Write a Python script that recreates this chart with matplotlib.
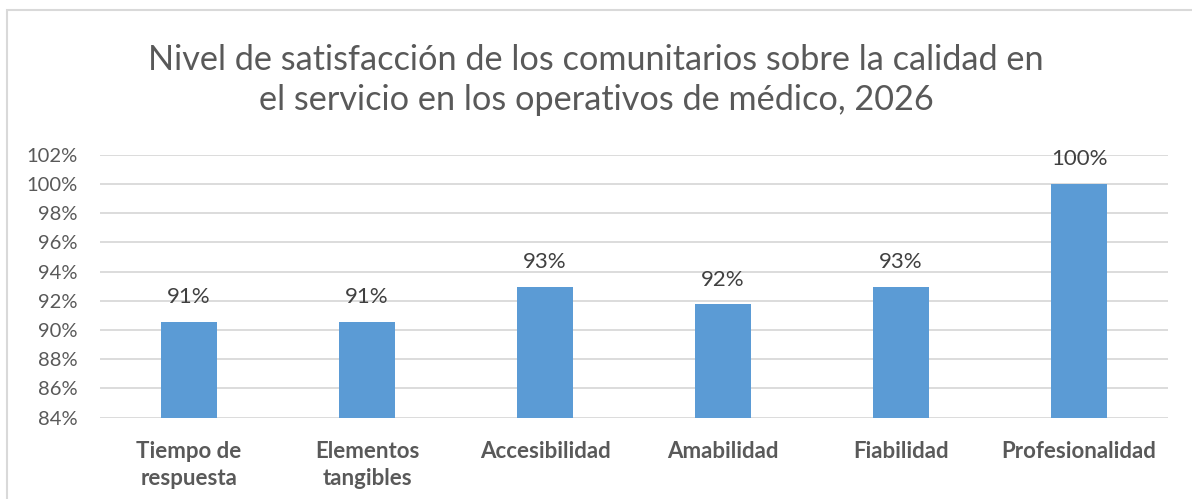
import matplotlib
matplotlib.use('Agg')
import matplotlib.pyplot as plt
from matplotlib.patches import Rectangle

# datos
categorias = ['Tiempo de\nrespuesta', 'Elementos\ntangibles', 'Accesibilidad',
              'Amabilidad', 'Fiabilidad', 'Profesionalidad']
valores = [90.55, 90.55, 92.95, 91.75, 92.95, 100.0]
etiquetas = ['91%', '91%', '93%', '92%', '93%', '100%']
ticks_y = list(range(84, 103, 2))

plt.rcParams['font.family'] = ['Lato', 'DejaVu Sans']

W, H = 1192, 499
fig = plt.figure(figsize=(W / 100, H / 100), dpi=100)
fig.patch.set_facecolor('white')

# marco exterior del grafico
fig.patches.append(Rectangle((7 / W, -0.1), 1.2, 1.1 - 10 / H, transform=fig.transFigure,
                             fill=False, edgecolor='#D9D9D9', linewidth=1.5))

ax = fig.add_axes([100 / W, 1 - 417.7 / H, 1068 / W, 263 / H])
x = range(len(categorias))
ax.bar(x, valores, width=0.31, color='#5B9BD5', zorder=3)
ax.set_ylim(84, 102)
ax.set_xlim(-0.5, len(categorias) - 0.5)
ax.set_yticks(ticks_y)
ax.set_yticklabels([f'{t}%' for t in ticks_y], fontsize=14.5, color='#595959')
ax.set_xticks(list(x))
ax.set_xticklabels(categorias, fontsize=16, fontweight='bold', color='#595959',
                   linespacing=1.35)
ax.tick_params(axis='both', length=0)
ax.tick_params(axis='x', pad=17)
ax.tick_params(axis='y', pad=16)
ax.grid(axis='y', color='#D9D9D9', linewidth=1.3, zorder=0)
for s in ax.spines.values():
    s.set_visible(False)

for i, (v, e) in enumerate(zip(valores, etiquetas)):
    ax.text(i, v + 1.0, e, ha='center', va='bottom', fontsize=16, color='#404040')

fig.text(0.5, 1 - 80 / H,
         'Nivel de satisfacción de los comunitarios sobre la calidad en\n'
         'el servicio en los operativos de médico, 2026',
         ha='center', va='center', fontsize=24.7, color='#595959', linespacing=1.3)

fig.savefig('out.png', dpi=100)
